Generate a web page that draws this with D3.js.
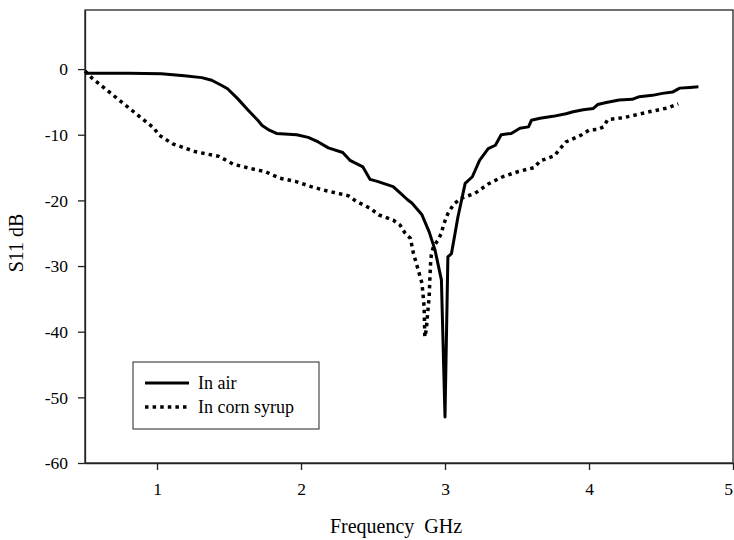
<!DOCTYPE html>
<html>
<head>
<meta charset="utf-8">
<script src="https://cdn.jsdelivr.net/npm/d3@7"></script>
<style>
  html, body { margin: 0; padding: 0; background: #fff; }
  svg { display: block; }
</style>
</head>
<body>
<svg id="chart" width="734" height="540"></svg>
<script>
// S11 return loss of the antenna, measured in air and immersed in corn syrup
const airFreq = [0.5, 0.8, 1.03, 1.19, 1.31, 1.38, 1.45, 1.49, 1.56, 1.63, 1.70, 1.73, 1.78, 1.83, 1.97, 2.05, 2.12, 2.19, 2.29, 2.34, 2.43, 2.48, 2.53, 2.64, 2.69, 2.74, 2.77, 2.84, 2.89, 2.93, 2.975, 3.0, 3.02, 3.045, 3.07, 3.09, 3.10, 3.14, 3.19, 3.24, 3.30, 3.35, 3.39, 3.46, 3.52, 3.58, 3.60, 3.66, 3.75, 3.84, 3.89, 3.96, 4.03, 4.06, 4.12, 4.21, 4.30, 4.35, 4.44, 4.51, 4.58, 4.63, 4.70, 4.76];
const airDb   = [-0.65, -0.65, -0.7, -1.0, -1.3, -1.7, -2.5, -3.0, -4.5, -6.2, -7.8, -8.6, -9.3, -9.8, -10.0, -10.4, -11.1, -12.0, -12.7, -13.9, -14.9, -16.8, -17.1, -17.9, -18.9, -19.9, -20.4, -22.2, -24.8, -27.5, -32.1, -53.0, -28.6, -28.1, -25.0, -22.5, -21.5, -17.4, -16.4, -13.9, -12.1, -11.6, -10.0, -9.8, -9.0, -8.8, -7.8, -7.5, -7.2, -6.8, -6.5, -6.2, -6.0, -5.4, -5.1, -4.7, -4.6, -4.2, -4.0, -3.7, -3.5, -2.9, -2.8, -2.7];

const syrupFreq = [0.5, 0.55, 0.77, 0.98, 1.01, 1.11, 1.27, 1.43, 1.48, 1.53, 1.70, 1.75, 1.85, 1.96, 2.07, 2.17, 2.27, 2.33, 2.38, 2.48, 2.54, 2.64, 2.69, 2.72, 2.76, 2.78, 2.81, 2.84, 2.855, 2.86, 2.87, 2.88, 2.89, 2.895, 2.90, 2.905, 2.92, 2.95, 2.975, 2.99, 3.02, 3.06, 3.11, 3.21, 3.30, 3.40, 3.51, 3.62, 3.66, 3.76, 3.80, 3.84, 3.95, 4.00, 4.06, 4.10, 4.13, 4.24, 4.34, 4.44, 4.55, 4.62];
const syrupDb   = [-0.3, -1.4, -5.3, -9.0, -10.0, -11.4, -12.6, -13.3, -13.9, -14.5, -15.4, -15.6, -16.6, -17.1, -17.9, -18.5, -19.0, -19.3, -20.1, -21.2, -22.2, -23.0, -23.8, -24.9, -25.8, -28.0, -30.3, -32.6, -36.2, -40.8, -39.7, -37.1, -34.7, -31.9, -29.5, -28.3, -27.0, -26.1, -25.0, -23.7, -22.0, -20.6, -19.7, -18.9, -17.5, -16.4, -15.6, -15.0, -14.0, -13.2, -12.1, -11.1, -10.0, -9.3, -9.2, -8.8, -7.7, -7.4, -6.9, -6.4, -5.9, -5.3];

const xTicks = [1, 2, 3, 4, 5];
const yTicks = [0, -10, -20, -30, -40, -50, -60];
const seriesNames = ["In air", "In corn syrup"];

const FONT = "'Liberation Serif', 'Times New Roman', Times, 'DejaVu Serif', serif";
const margin = { left: 85, top: 10, right: 733, bottom: 463 };

const svg = d3.select("#chart");

const x = d3.scaleLinear().domain([0.5, 5]).range([margin.left, margin.right]);
const y = d3.scaleLinear().domain([-60, 9]).range([margin.bottom, margin.top]);

// plot frame
svg.append("rect")
  .attr("x", margin.left).attr("y", margin.top)
  .attr("width", margin.right - margin.left).attr("height", margin.bottom - margin.top)
  .attr("fill", "none").attr("stroke", "#222").attr("stroke-width", 1.3);

// axes
const xAxis = d3.axisBottom(x).tickValues(xTicks).tickSize(7).tickSizeOuter(0)
  .tickFormat(d3.format("d"));
const gx = svg.append("g").attr("transform", `translate(0,${margin.bottom})`).call(xAxis)
  .attr("font-family", FONT).attr("font-size", 17.5);
gx.select(".domain").attr("stroke", "#222").attr("stroke-width", 1.3);
gx.selectAll(".tick line").attr("stroke", "#222").attr("stroke-width", 1.3);
gx.selectAll(".tick text").attr("dy", null).attr("y", 32)
  .attr("font-family", FONT).attr("font-size", 17.5)
  // keep the last label inside the page edge
  .attr("x", d => d === 5 ? -5 : 0);

const yAxis = d3.axisLeft(y).tickValues(yTicks).tickSize(7).tickSizeOuter(0)
  .tickFormat(d3.format("d"));
const gy = svg.append("g").attr("transform", `translate(${margin.left},0)`).call(yAxis)
  .attr("font-family", FONT).attr("font-size", 17.5);
gy.select(".domain").attr("stroke", "#222").attr("stroke-width", 1.3);
gy.selectAll(".tick line").attr("stroke", "#222").attr("stroke-width", 1.3);
gy.selectAll(".tick text").attr("x", -17).attr("dy", "0.33em")
  .attr("font-family", FONT).attr("font-size", 17.5)
  .text(d => d < 0 ? "-" + Math.abs(d) : d);

// axis titles
svg.append("text")
  .attr("transform", "translate(23,243) rotate(-90)")
  .attr("text-anchor", "middle").attr("font-size", 20).attr("font-family", FONT)
  .attr("xml:space", "preserve")
  .text("S11 dB");

svg.append("text")
  .attr("x", 396).attr("y", 533)
  .attr("text-anchor", "middle").attr("font-size", 20).attr("font-family", FONT)
  .attr("xml:space", "preserve")
  .text("Frequency  GHz");

// curves
const line = d3.line().x(d => x(d[0])).y(d => y(d[1]));
const airData = d3.zip(airFreq, airDb);
const syrupData = d3.zip(syrupFreq, syrupDb);

svg.append("path").datum(syrupData)
  .attr("d", line).attr("fill", "none").attr("stroke", "#000")
  .attr("stroke-width", 3.5).attr("stroke-dasharray", "3.5,4.1")
  .attr("stroke-linejoin", "miter");

svg.append("path").datum(airData)
  .attr("d", line).attr("fill", "none").attr("stroke", "#000")
  .attr("stroke-width", 3).attr("stroke-linejoin", "round");

// legend
const lg = svg.append("g").attr("transform", "translate(133,362)");
lg.append("rect").attr("width", 186).attr("height", 67)
  .attr("fill", "#fff").attr("stroke", "#222").attr("stroke-width", 1);
const styles = [{ w: 3, dash: null }, { w: 3.5, dash: "3.5,4.1" }];
seriesNames.forEach((name, i) => {
  const yy = 21 + i * 24;
  lg.append("line").attr("x1", 12).attr("x2", 56).attr("y1", yy).attr("y2", yy)
    .attr("stroke", "#000").attr("stroke-width", styles[i].w)
    .attr("stroke-dasharray", styles[i].dash);
  lg.append("text").attr("x", 65).attr("y", yy + 6).attr("font-size", 18)
    .attr("font-family", FONT).text(name);
});
</script>
</body>
</html>
